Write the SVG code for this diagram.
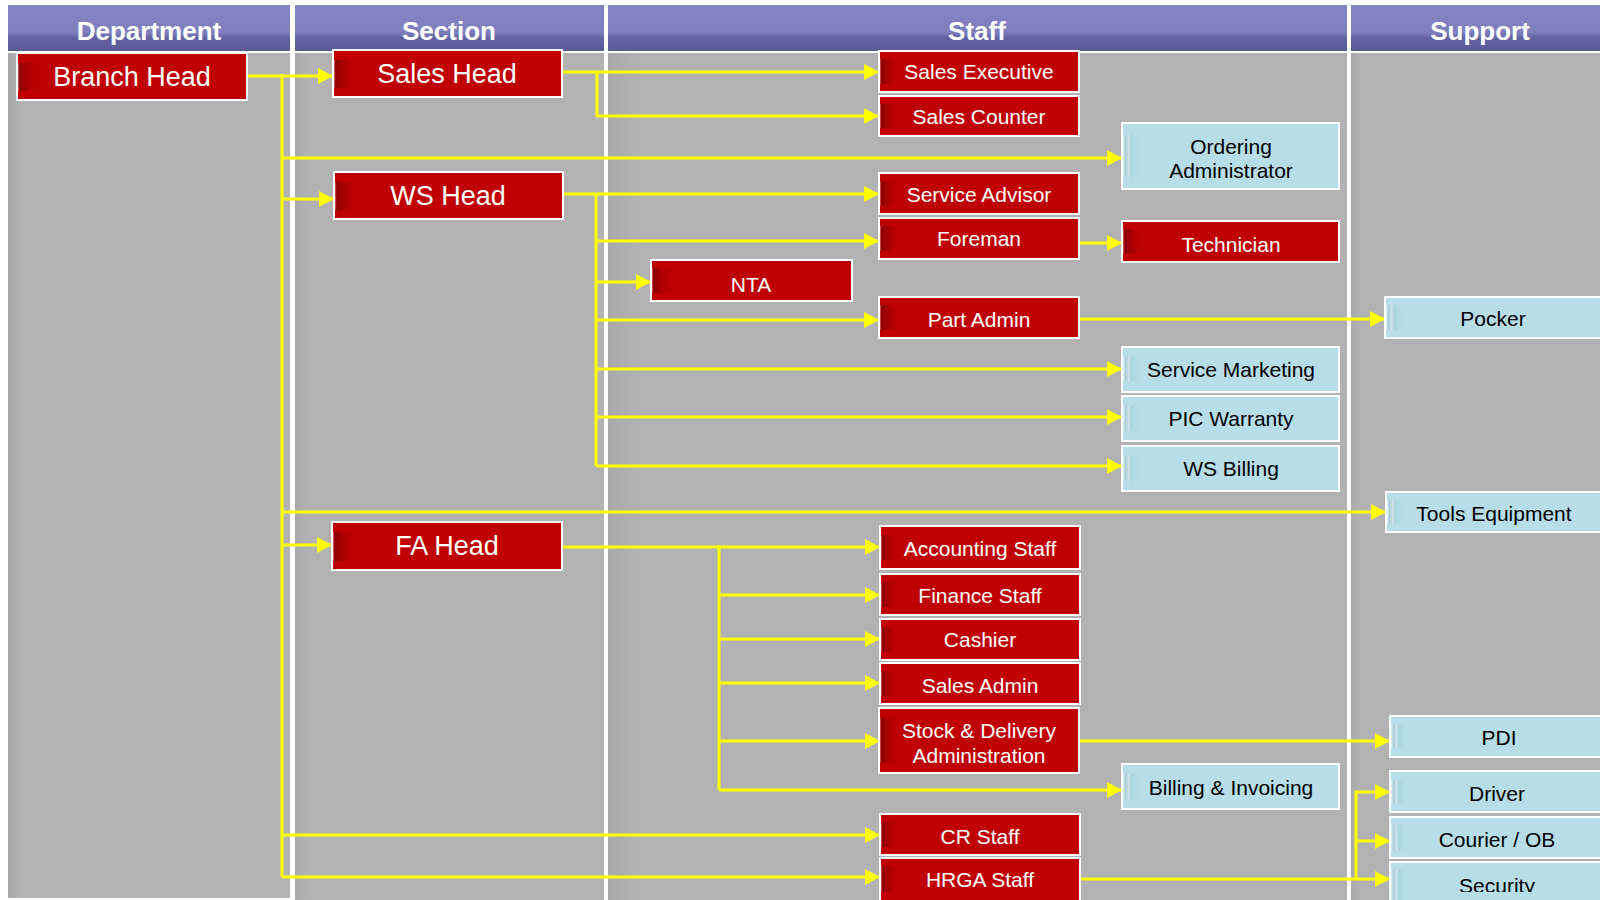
<svg xmlns="http://www.w3.org/2000/svg" width="1600" height="900" viewBox="0 0 1600 900">
<defs>
<linearGradient id="gHdr" x1="0" y1="0" x2="0" y2="1">
<stop offset="0" stop-color="#8585c6"/>
<stop offset="0.6" stop-color="#7e7ebd"/>
<stop offset="0.72" stop-color="#6262a2"/>
<stop offset="1" stop-color="#5a5a98"/>
</linearGradient>
<linearGradient id="gRedS" x1="0" y1="0" x2="1" y2="0">
<stop offset="0" stop-color="#e07070"/>
<stop offset="0.06" stop-color="#8e0000"/>
<stop offset="0.3" stop-color="#a60000"/>
<stop offset="0.55" stop-color="#b80000"/>
<stop offset="1" stop-color="#c00000"/>
</linearGradient>
<linearGradient id="gBlueS" x1="0" y1="0" x2="1" y2="0">
<stop offset="0" stop-color="#e4eff3"/>
<stop offset="0.15" stop-color="#a6cdd8"/>
<stop offset="0.3" stop-color="#cfe3ea"/>
<stop offset="0.45" stop-color="#a8d6dc"/>
<stop offset="0.7" stop-color="#b2dce4"/>
<stop offset="1" stop-color="#b7dde8"/>
</linearGradient>
<linearGradient id="gCol" x1="0" y1="0" x2="1" y2="0">
<stop offset="0" stop-color="#a9a9a9"/>
<stop offset="0.04" stop-color="#b2b2b2"/>
<stop offset="1" stop-color="#b2b2b2"/>
</linearGradient>
<marker id="ah" markerUnits="userSpaceOnUse" markerWidth="16" markerHeight="16" refX="15" refY="8" orient="auto">
<path d="M0,0 L15,8 L0,16 Z" fill="#ffff00"/>
</marker>
<clipPath id="clipBottom" clipPathUnits="userSpaceOnUse"><rect x="0" y="0" width="1600" height="892"/></clipPath>
<style>
.hdr rect{fill:url(#gHdr);}
.hdr text{font-family:"Liberation Sans",Arial,sans-serif;font-weight:bold;font-size:26px;fill:#ffffff;text-anchor:middle;}
.col{fill:url(#gCol);}
.red rect{fill:#c00000;stroke:#ffffff;stroke-width:2;}
.blue rect{fill:#b7dde8;stroke:#ffffff;stroke-width:2;}
.red rect.s{fill:url(#gRedS);stroke:none;}
.blue rect.s{fill:url(#gBlueS);stroke:none;}
.red text{fill:#ffffff;}
.blue text{fill:#000000;}
text.n{font-family:"Liberation Sans",Arial,sans-serif;font-size:21px;text-anchor:middle;}
text.big{font-size:27px;}
#connectors path{fill:none;stroke:#ffff00;stroke-width:3;}
#connectors path.a{marker-end:url(#ah);}
</style>
</defs>
<rect x="0" y="0" width="1600" height="900" fill="#ffffff"/>
<g id="lanes">
<rect class="col" x="8" y="53" width="282" height="845"/>
<rect class="col" x="295" y="53" width="309" height="847"/>
<rect class="col" x="608" y="53" width="739" height="847"/>
<rect class="col" x="1351" y="53" width="260" height="847"/>
<g class="hdr">
<rect x="8" y="5" width="282" height="46"/>
<rect x="295" y="5" width="309" height="46"/>
<rect x="608" y="5" width="739" height="46"/>
<rect x="1351" y="5" width="260" height="46"/>
<text x="149" y="40">Department</text>
<text x="449" y="40">Section</text>
<text x="977" y="40">Staff</text>
<text x="1480" y="40">Support</text>
</g>
</g>
<g id="connectors">
<path d="M282,74 V877"/>
<path class="a" d="M247,76 H333"/>
<path class="a" d="M282,158 H1122"/>
<path class="a" d="M282,199 H334"/>
<path class="a" d="M282,512 H1386"/>
<path class="a" d="M282,545 H332"/>
<path class="a" d="M282,835 H880"/>
<path class="a" d="M282,877 H880"/>
<path class="a" d="M562,72 H879"/>
<path class="a" d="M597,72 V116 H879"/>
<path class="a" d="M563,194 H879"/>
<path d="M596,194 V466"/>
<path class="a" d="M596,241 H879"/>
<path class="a" d="M596,282 H651"/>
<path class="a" d="M596,320 H879"/>
<path class="a" d="M596,369 H1122"/>
<path class="a" d="M596,417 H1122"/>
<path class="a" d="M596,466 H1122"/>
<path class="a" d="M1079,243 H1122"/>
<path class="a" d="M1079,319 H1385"/>
<path class="a" d="M562,547 H880"/>
<path d="M719,545 V790"/>
<path class="a" d="M719,595 H880"/>
<path class="a" d="M719,639 H880"/>
<path class="a" d="M719,683 H880"/>
<path class="a" d="M719,741 H880"/>
<path class="a" d="M719,790 H1122"/>
<path class="a" d="M1080,741 H1390"/>
<path class="a" d="M1080,879 H1390"/>
<path class="a" d="M1356,879 V792 H1390"/>
<path class="a" d="M1356,841 H1390"/>
</g>
<g id="branch-head" class="red"><rect x="17" y="53" width="230" height="47"/><rect class="s" x="18" y="63" width="28" height="28"/><text class="n big" x="132" y="86">Branch Head</text></g>
<g id="sales-head" class="red"><rect x="333" y="50" width="229" height="47"/><rect class="s" x="334" y="60" width="28" height="28"/><text class="n big" x="447" y="83">Sales Head</text></g>
<g id="ws-head" class="red"><rect x="334" y="172" width="229" height="47"/><rect class="s" x="335" y="182" width="28" height="29"/><text class="n big" x="448" y="205">WS Head</text></g>
<g id="fa-head" class="red"><rect x="332" y="522" width="230" height="48"/><rect class="s" x="333" y="532" width="28" height="29"/><text class="n big" x="447" y="555">FA Head</text></g>
<g id="sales-executive" class="red"><rect x="879" y="51" width="200" height="41"/><rect class="s" x="880" y="59" width="22" height="25"/><text class="n" x="979" y="79">Sales Executive</text></g>
<g id="sales-counter" class="red"><rect x="879" y="96" width="200" height="40"/><rect class="s" x="880" y="104" width="22" height="24"/><text class="n" x="979" y="124">Sales Counter</text></g>
<g id="ordering-administrator" class="blue"><rect x="1122" y="123" width="217" height="66"/><rect class="s" x="1123" y="135" width="18" height="42"/><text class="n" x="1231" y="154">Ordering</text><text class="n" x="1231" y="178">Administrator</text></g>
<g id="service-advisor" class="red"><rect x="879" y="173" width="200" height="41"/><rect class="s" x="880" y="181" width="22" height="25"/><text class="n" x="979" y="202">Service Advisor</text></g>
<g id="foreman" class="red"><rect x="879" y="218" width="200" height="41"/><rect class="s" x="880" y="226" width="26" height="25"/><text class="n" x="979" y="246">Foreman</text></g>
<g id="technician" class="red"><rect x="1122" y="221" width="217" height="41"/><rect class="s" x="1123" y="229" width="26" height="25"/><text class="n" x="1231" y="252">Technician</text></g>
<g id="nta" class="red"><rect x="651" y="260" width="201" height="41"/><rect class="s" x="652" y="268" width="26" height="25"/><text class="n" x="751" y="292">NTA</text></g>
<g id="part-admin" class="red"><rect x="879" y="297" width="200" height="41"/><rect class="s" x="880" y="305" width="26" height="25"/><text class="n" x="979" y="327">Part Admin</text></g>
<g id="service-marketing" class="blue"><rect x="1122" y="347" width="217" height="45"/><rect class="s" x="1123" y="357" width="18" height="25"/><text class="n" x="1231" y="377">Service Marketing</text></g>
<g id="pic-warranty" class="blue"><rect x="1122" y="396" width="217" height="45"/><rect class="s" x="1123" y="406" width="18" height="25"/><text class="n" x="1231" y="426">PIC Warranty</text></g>
<g id="ws-billing" class="blue"><rect x="1122" y="446" width="217" height="45"/><rect class="s" x="1123" y="456" width="18" height="25"/><text class="n" x="1231" y="476">WS Billing</text></g>
<g id="pocker" class="blue"><rect x="1385" y="297" width="222" height="41"/><rect class="s" x="1386" y="305" width="18" height="25"/><text class="n" x="1493" y="326">Pocker</text></g>
<g id="tools-equipment" class="blue"><rect x="1386" y="492" width="222" height="40"/><rect class="s" x="1387" y="500" width="18" height="24"/><text class="n" x="1494" y="521">Tools Equipment</text></g>
<g id="accounting-staff" class="red"><rect x="880" y="526" width="200" height="43"/><rect class="s" x="881" y="535" width="22" height="25"/><text class="n" x="980" y="556">Accounting Staff</text></g>
<g id="finance-staff" class="red"><rect x="880" y="574" width="200" height="41"/><rect class="s" x="881" y="582" width="22" height="25"/><text class="n" x="980" y="603">Finance Staff</text></g>
<g id="cashier" class="red"><rect x="880" y="619" width="200" height="41"/><rect class="s" x="881" y="627" width="22" height="25"/><text class="n" x="980" y="647">Cashier</text></g>
<g id="sales-admin" class="red"><rect x="880" y="663" width="200" height="41"/><rect class="s" x="881" y="671" width="22" height="25"/><text class="n" x="980" y="693">Sales Admin</text></g>
<g id="stock-delivery" class="red"><rect x="879" y="708" width="200" height="65"/><rect class="s" x="880" y="718" width="22" height="45"/><text class="n" x="979" y="738">Stock &amp; Delivery</text><text class="n" x="979" y="763">Administration</text></g>
<g id="billing-invoicing" class="blue"><rect x="1122" y="764" width="217" height="45"/><rect class="s" x="1123" y="774" width="18" height="25"/><text class="n" x="1231" y="795">Billing &amp; Invoicing</text></g>
<g id="pdi" class="blue"><rect x="1390" y="716" width="220" height="41"/><rect class="s" x="1391" y="724" width="18" height="25"/><text class="n" x="1499" y="745">PDI</text></g>
<g id="driver" class="blue"><rect x="1390" y="771" width="220" height="41"/><rect class="s" x="1391" y="779" width="18" height="25"/><text class="n" x="1497" y="801">Driver</text></g>
<g id="courier-ob" class="blue"><rect x="1390" y="817" width="220" height="41"/><rect class="s" x="1391" y="825" width="18" height="25"/><text class="n" x="1497" y="847">Courier / OB</text></g>
<g id="security" class="blue"><rect x="1390" y="862" width="220" height="45"/><rect class="s" x="1391" y="870" width="18" height="30"/><text class="n" x="1497" y="893" clip-path="url(#clipBottom)">Security</text></g>
<g id="cr-staff" class="red"><rect x="880" y="814" width="200" height="41"/><rect class="s" x="881" y="822" width="22" height="25"/><text class="n" x="980" y="844">CR Staff</text></g>
<g id="hrga-staff" class="red"><rect x="880" y="858" width="200" height="44"/><rect class="s" x="881" y="866" width="22" height="26"/><text class="n" x="980" y="887">HRGA Staff</text></g>
</svg>
